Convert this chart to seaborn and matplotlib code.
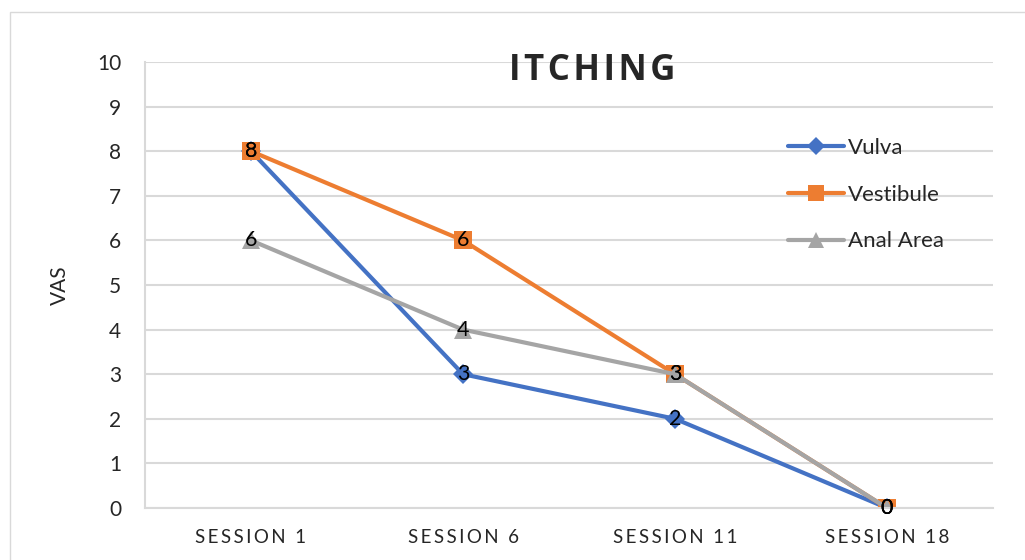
import matplotlib
matplotlib.use("Agg")
import matplotlib.pyplot as plt
from matplotlib.patches import Rectangle
import pandas as pd
import seaborn as sns

# Itching scores (VAS) per treatment session
sessions = ["SESSION 1", "SESSION 6", "SESSION 11", "SESSION 18"]
vulva = [8, 3, 2, 0]
vestibule = [8, 6, 3, 0]
anal_area = [6, 4, 3, 0]
series_names = ["Vulva", "Vestibule", "Anal Area"]
series_colors = ["#4472C4", "#ED7D31", "#A5A5A5"]
series_markers = ["D", "s", "^"]
y_ticks = list(range(0, 11))

sns.set_theme(style="white")
plt.rcParams["font.family"] = ["Lato", "DejaVu Sans"]

df = pd.DataFrame({
    "session": sessions * 3,
    "VAS": vulva + vestibule + anal_area,
    "area": [n for n in series_names for _ in sessions],
})

fig = plt.figure(figsize=(10.25, 5.6), dpi=100)
ax = fig.add_axes([145 / 1025, 1 - 508 / 560, 848 / 1025, 446 / 560])

sns.lineplot(
    data=df, x="session", y="VAS", hue="area", style="area",
    hue_order=series_names, style_order=series_names,
    palette=series_colors, markers=series_markers, dashes=False,
    linewidth=3, markersize=13, markeredgewidth=0, sort=False, ax=ax,
)
# diamonds read larger than squares at equal size, so trim them
ax.lines[0].set_markersize(10.5)

# value labels centred on each point
for values in (vulva, vestibule, anal_area):
    for i, v in enumerate(values):
        ax.text(i, v, str(v), ha="center", va="center", fontsize=15.5,
                color="black", zorder=10)

ax.set_xlim(-0.5, len(sessions) - 0.5)
ax.set_ylim(0, 10)
ax.set_yticks(y_ticks)
ax.set_xticks(range(len(sessions)))
ax.set_xticklabels(["\u2009".join(s) for s in sessions], fontsize=13.5,
                   family=["Lato", "DejaVu Sans"])
ax.set_xticks([i + 0.5 for i in range(len(sessions))], minor=True)
ax.tick_params(axis="x", which="both", direction="in", length=4.5, width=1,
               color="#D9D9D9", pad=15)
ax.tick_params(axis="y", length=0, pad=17, labelsize=15)
ax.set_xlabel("")
ax.set_ylabel("VAS", fontsize=15)
ax.yaxis.set_label_coords(-0.088, 0.5)

ax.yaxis.grid(True, color="#D9D9D9", linewidth=1.5)
ax.set_axisbelow(True)
for side in ("top", "right"):
    ax.spines[side].set_visible(False)
for side in ("left", "bottom"):
    ax.spines[side].set_color("#D9D9D9")
    ax.spines[side].set_linewidth(1.5)

sns.move_legend(
    ax, "upper left", bbox_to_anchor=(788 / 1025, 1 - 138 / 560),
    bbox_transform=fig.transFigure, frameon=False, title=None,
    fontsize=16, handlelength=2.5, handletextpad=0.2, labelspacing=1.2,
    borderpad=0, borderaxespad=0,
)
leg_handles = ax.get_legend().legend_handles
leg_handles[0].set_markersize(9)
for h in leg_handles[1:]:
    h.set_markersize(11)

fig.text(592 / 1025, 1 - 71 / 560, "\u200a".join("ITCHING"), ha="center",
         va="center", fontsize=25, fontweight="bold",
         family=["Open Sans", "DejaVu Sans"])

# chart frame
fig.patches.append(Rectangle((10 / 1025, -0.1), 1.2, 1.1 - 12 / 560,
                             transform=fig.transFigure, fill=False,
                             edgecolor="#D9D9D9", linewidth=1))

fig.savefig("out.png", dpi=100)
